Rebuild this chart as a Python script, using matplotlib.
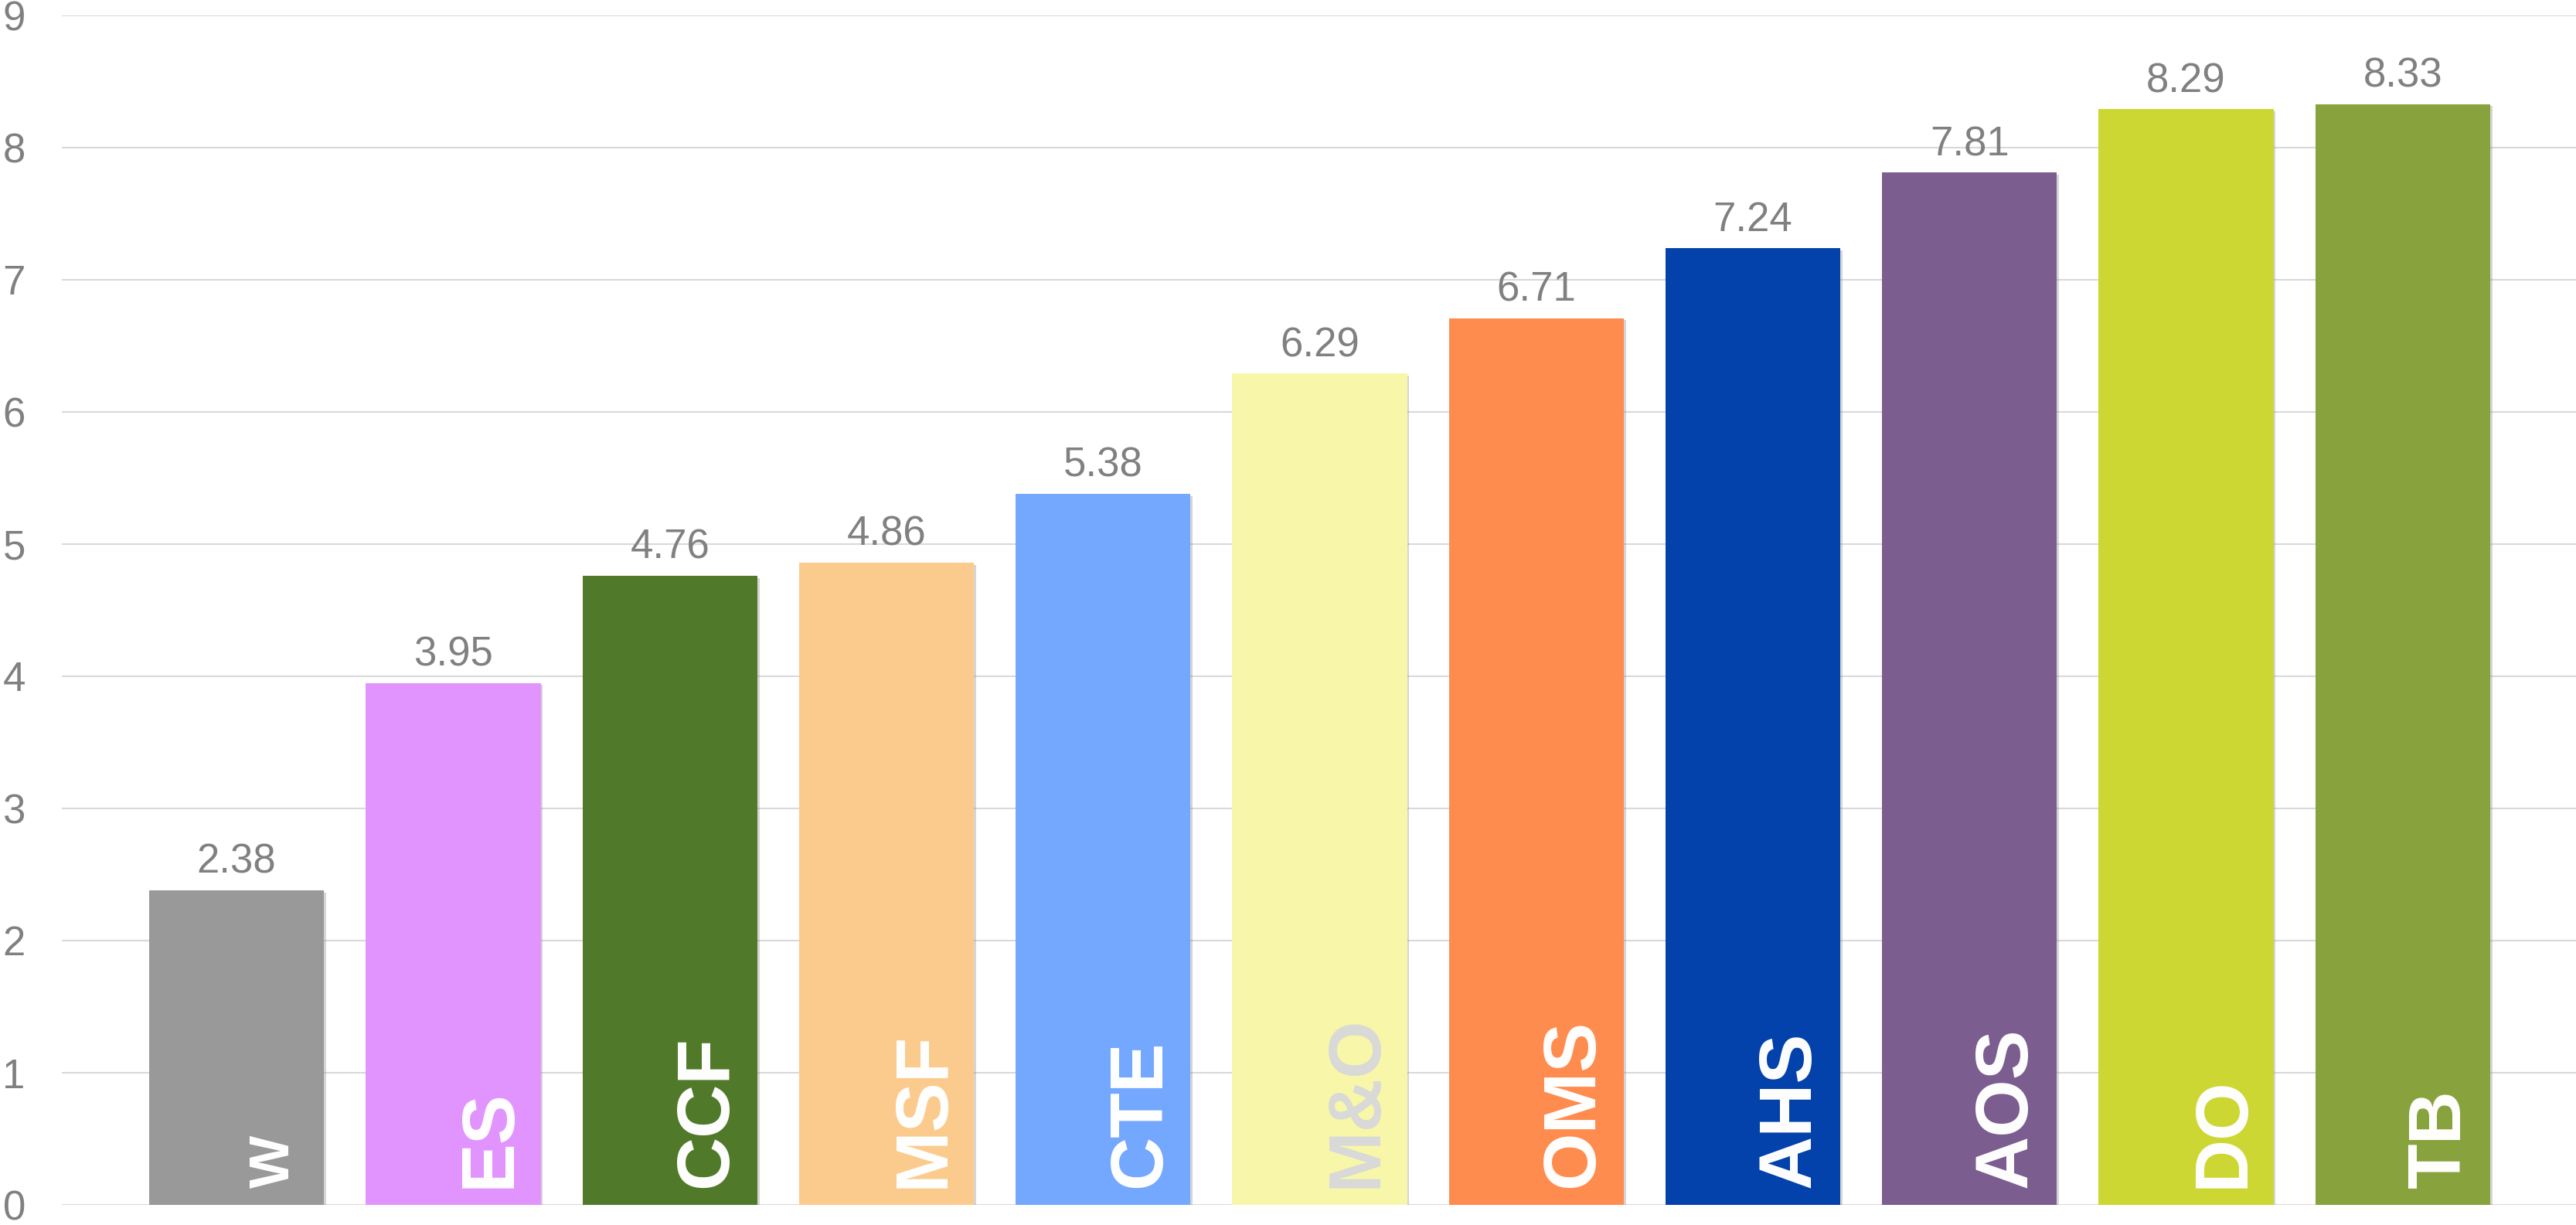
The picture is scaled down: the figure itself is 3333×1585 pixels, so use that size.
import matplotlib as mpl
mpl.use('agg')
import matplotlib.pyplot as plt
import matplotlib.patheffects as pe

# Data
categories = ["W", "ES", "CCF", "MSF", "CTE", "M&O", "OMS", "AHS", "AOS", "DO", "TB"]
values = [2.38, 3.95, 4.76, 4.86, 5.38, 6.29, 6.71, 7.24, 7.81, 8.29, 8.33]
bar_colors = ["#999999", "#E294FE", "#507A29", "#FBCB8E", "#74A7FE", "#F8F7A9",
              "#FF8C4F", "#0342AB", "#7B5E8F", "#CDD733", "#88A33D"]
label_colors = ["white"] * 5 + ["#D9D9D9"] + ["white"] * 5
label_sizes = [52] + [69] * 10
yticks = list(range(0, 10))

plt.rcParams['font.family'] = ['Liberation Sans', 'DejaVu Sans']

fig = plt.figure(figsize=(33.33, 15.85), dpi=100)
ax = fig.add_axes([0.024, 0.0164, 0.976, 0.971])

x = list(range(len(categories)))
bars = ax.bar(x, values, width=0.807, color=bar_colors, zorder=3)
for b in bars:
    b.set_path_effects([pe.SimplePatchShadow(offset=(2, -2), shadow_rgbFace='#888888', alpha=0.35),
                        pe.Normal()])

# value labels above bars
for xi, v in zip(x, values):
    ax.annotate(f"{v:.2f}", (xi, v), xytext=(0, 16), textcoords='offset points',
                ha='center', va='baseline', fontsize=38, color='#808080')

# category labels inside bars
for xi, name, c, s in zip(x, categories, label_colors, label_sizes):
    ax.annotate(name, (xi, 0), xytext=(35, 16), textcoords='offset points',
                ha='center', va='bottom', rotation=90, fontsize=s,
                fontweight='bold', color=c, zorder=4)

ax.set_xlim(-0.807, 10.80)
ax.set_ylim(0, 9)
ax.set_yticks(yticks)
ax.set_xticks([])
ax.yaxis.grid(True, color='#D9D9D9', linewidth=1.5, zorder=0)
ax.set_axisbelow(True)
for sp in ax.spines.values():
    sp.set_visible(False)
ax.tick_params(axis='y', length=0, pad=34, labelsize=38, labelcolor='#808080')

fig.savefig("out.png", dpi=100)
